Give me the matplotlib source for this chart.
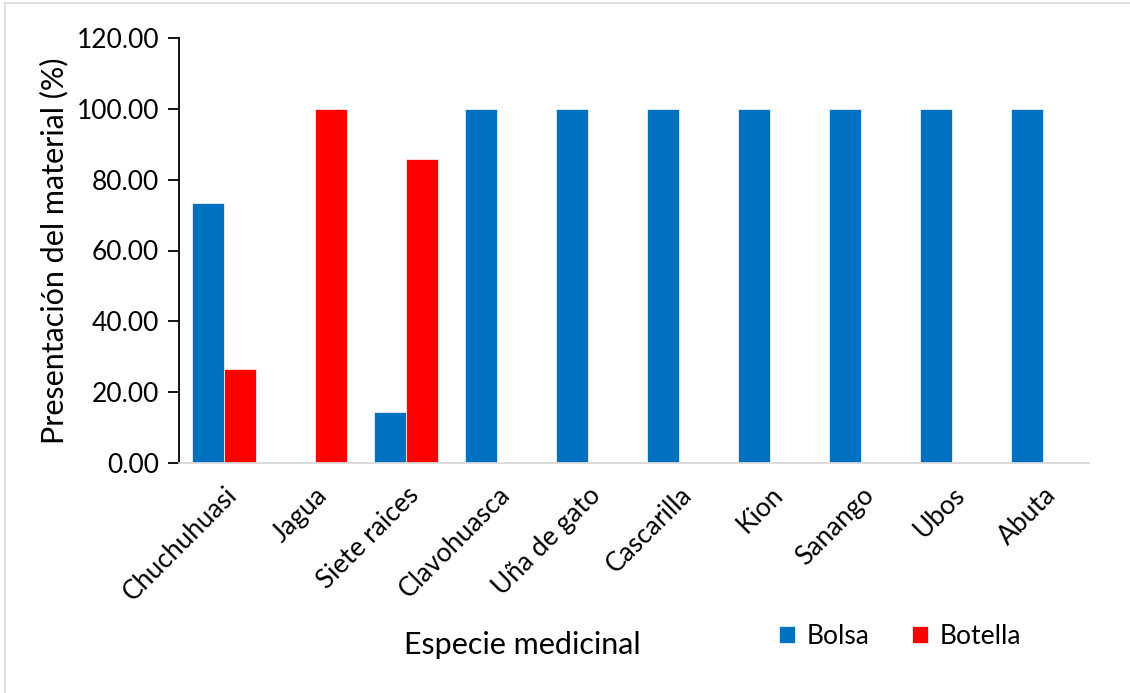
import numpy as np
import matplotlib.pyplot as plt
import matplotlib.transforms as mtransforms
from matplotlib.patches import Rectangle

especies = ["Chuchuhuasi", "Jagua", "Siete raices", "Clavohuasca", "Uña de gato",
            "Cascarilla", "Kion", "Sanango", "Ubos", "Abuta"]
bolsa = [73.33, 0, 14.29, 100, 100, 100, 100, 100, 100, 100]
botella = [26.67, 100, 85.71, 0, 0, 0, 0, 0, 0, 0]

plt.rcParams["font.family"] = ["Lato", "DejaVu Sans"]

fig = plt.figure(figsize=(11.3, 6.93), dpi=100)
W, H = 1130, 693
ax = fig.add_axes([178.5 / W, 1 - 463 / H, (1088.5 - 178.5) / W, (463 - 38) / H])

# chart area frame (only left/top visible)
fig.patches.append(Rectangle((5 / W, -0.2), 1.2, 1.2 - 3 / H, transform=fig.transFigure,
                             fill=False, edgecolor="#d9d9d9", linewidth=1.2))

x = np.arange(len(especies))
w = 0.345
ax.bar(x - w / 2 - 0.005, bolsa, width=w, color="#0070C0", edgecolor="#e8f0f8",
       linewidth=0.6, label="Bolsa")
ax.bar(x + w / 2 + 0.005, botella, width=w, color="#FF0000", edgecolor="#fde8e8",
       linewidth=0.6, label="Botella")

ax.set_xlim(-0.5, len(especies) - 0.5)
ax.set_ylim(0, 120)
ax.set_yticks(np.arange(0, 121, 20))
ax.set_yticklabels([f"{v:.2f}" for v in np.arange(0, 121, 20)], fontsize=19)
ax.set_xticks(x)
ax.set_xticklabels(especies, rotation=45, ha="right", rotation_mode="anchor", fontsize=19)
shift = mtransforms.ScaledTranslation(-8 / 100, 0, fig.dpi_scale_trans)
for lbl in ax.get_xticklabels():
    lbl.set_transform(lbl.get_transform() + shift)

ax.spines[["top", "right"]].set_visible(False)
ax.spines["left"].set_linewidth(1.3)
ax.spines["bottom"].set_color("#d9d9d9")
ax.spines["bottom"].set_linewidth(1.3)
ax.tick_params(axis="y", direction="out", length=8, width=1.3, pad=6)
ax.tick_params(axis="x", length=0, pad=14)

ax.set_ylabel("Presentación del material (%)", fontsize=22, labelpad=6)
fig.text(522 / W, 1 - 645 / H, "Especie medicinal", fontsize=22, ha="center", va="center")

ax.legend(loc="center", bbox_to_anchor=(900 / W, 1 - 636 / H), bbox_transform=fig.transFigure,
          ncol=2, frameon=False, fontsize=19, handlelength=0.6, handleheight=0.6,
          columnspacing=1.6, handletextpad=0.45)

plt.savefig("out.png", dpi=100)
